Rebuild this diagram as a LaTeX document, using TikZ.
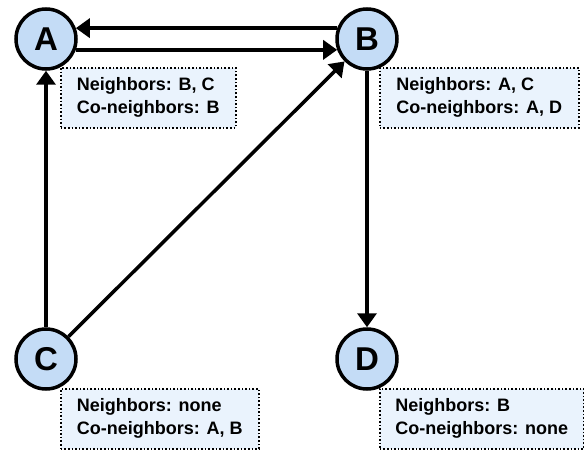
\documentclass[tikz,border=0pt]{standalone}
\usepackage{fontspec}
\setmainfont{Liberation Sans}
\usetikzlibrary{arrows.meta}
\definecolor{nodeblue}{RGB}{196,220,246}
\definecolor{boxblue}{RGB}{234,243,253}
\tikzset{
  vertex/.style={circle, draw=black, line width=3.5pt, fill=nodeblue,
    minimum size=60pt, inner sep=0pt, font=\fontsize{33}{33}\selectfont\bfseries},
  info/.style={draw=black, dotted, line width=1.6pt, fill=boxblue, anchor=north west,
    align=left, inner xsep=14pt, inner ysep=0pt, minimum height=60pt,
    font=\fontsize{18}{23}\selectfont\bfseries},
  arr/.style={line width=3.5pt, -{Triangle[length=14pt,width=19pt]}}
}
\begin{document}
\begin{tikzpicture}[x=1pt, y=-1pt]
   \useasboundingbox (0,0) rectangle (584,452);
   % vertices
   \node[vertex] (A) at (46,39) {A};
   \node[vertex] (B) at (367,39) {B};
   \node[vertex] (C) at (46,359) {C};
   \node[vertex] (D) at (367,359) {D};
   % edges
   \draw[arr] (B.160) -- (A.20);
   \draw[arr] (A.-20) -- (B.200);
   \draw[arr] (C) -- (A);
   \draw[arr] (C) -- (B);
   \draw[arr] (B) -- (D);
   % neighbor lists
   \node[info, minimum width=175pt] (infoA) at (60,67) {Neighbors: B, C\\Co-neighbors: B};
   \node[info, minimum width=199pt] (infoB) at (379,67) {Neighbors: A, C\\Co-neighbors: A, D};
   \node[info, minimum width=198pt] (infoC) at (60,388) {Neighbors: none\\Co-neighbors: A, B};
   \node[info, minimum width=204pt] (infoD) at (379,388) {Neighbors: B\\Co-neighbors: none};
\end{tikzpicture}
\end{document}
